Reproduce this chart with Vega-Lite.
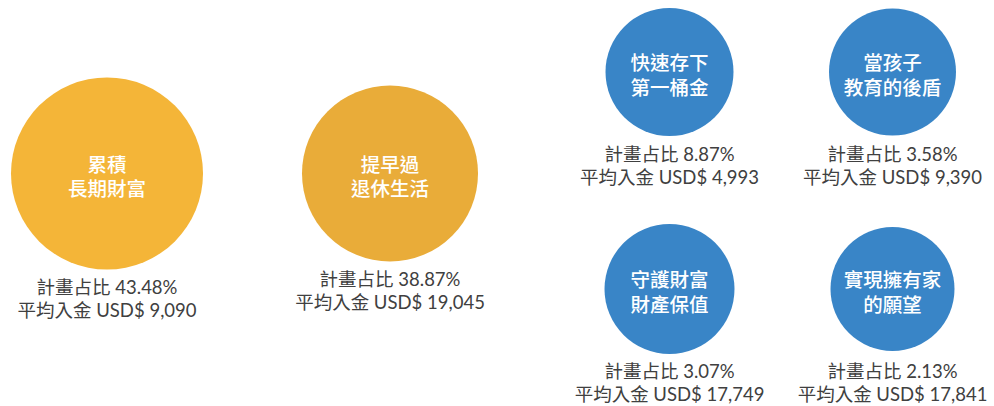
{
  "$schema": "https://vega.github.io/schema/vega-lite/v6.json",
  "width": 994,
  "height": 406,
  "padding": 0,
  "autosize": {"type": "none"},
  "background": "white",
  "config": {"view": {"stroke": null}},
  "data": {
    "values": [
      {"name": "累積\n長期財富", "share": 43.48, "info": "計畫占比 43.48%\n平均入金 USD$ 9,090", "col": 1, "row": 2},
      {"name": "提早過\n退休生活", "share": 38.87, "info": "計畫占比 38.87%\n平均入金 USD$ 19,045", "col": 2, "row": 2},
      {"name": "快速存下\n第一桶金", "share": 8.87, "info": "計畫占比 8.87%\n平均入金 USD$ 4,993", "col": 3, "row": 1},
      {"name": "當孩子\n教育的後盾", "share": 3.58, "info": "計畫占比 3.58%\n平均入金 USD$ 9,390", "col": 4, "row": 1},
      {"name": "守護財富\n財產保值", "share": 3.07, "info": "計畫占比 3.07%\n平均入金 USD$ 17,749", "col": 3, "row": 3},
      {"name": "實現擁有家\n的願望", "share": 2.13, "info": "計畫占比 2.13%\n平均入金 USD$ 17,841", "col": 4, "row": 3}
    ]
  },
  "encoding": {
    "x": {"field": "col", "type": "quantitative", "scale": {"domain": [1, 2, 3, 4], "range": [107, 390, 669.5, 892.5], "nice": false, "zero": false}, "axis": null},
    "y": {"field": "row", "type": "quantitative", "scale": {"domain": [1, 2, 3], "range": [72, 173.5, 289], "nice": false, "zero": false}, "axis": null}
  },
  "layer": [
    {
      "mark": {"type": "point", "shape": "circle", "filled": true, "opacity": 1, "strokeWidth": 0},
      "encoding": {
        "size": {"field": "share", "type": "quantitative", "scale": {"domain": [2.13, 3.07, 3.58, 8.87, 38.87, 43.48], "range": [15376, 16900, 16129, 16384, 30976, 36864], "zero": false, "nice": false}, "legend": null},
        "color": {"field": "name", "type": "nominal", "scale": {"domain": ["累積\n長期財富", "提早過\n退休生活", "快速存下\n第一桶金", "當孩子\n教育的後盾", "守護財富\n財產保值", "實現擁有家\n的願望"], "range": ["#F4B538", "#E9AC39", "#3985C7", "#3985C7", "#3985C7", "#3985C7"]}, "legend": null}
      }
    },
    {
      "mark": {"type": "text", "lineBreak": "\n", "lineHeight": 24.5, "fontSize": 19.5, "font": "Noto Sans CJK TC", "fontWeight": 500, "color": "white", "align": "center", "baseline": "middle", "dy": -8},
      "encoding": {"text": {"field": "name", "type": "nominal"}}
    },
    {
      "transform": [{"filter": "datum.share > 40"}],
      "mark": {"type": "text", "lineBreak": "\n", "lineHeight": 23, "fontSize": 18.5, "font": "Lato, Noto Sans CJK TC", "color": "#404040", "align": "center", "baseline": "middle", "dy": 114.5},
      "encoding": {"text": {"field": "info", "type": "nominal"}}
    },
    {
      "transform": [{"filter": "datum.share > 20 && datum.share < 40"}],
      "mark": {"type": "text", "lineBreak": "\n", "lineHeight": 23, "fontSize": 18.5, "font": "Lato, Noto Sans CJK TC", "color": "#404040", "align": "center", "baseline": "middle", "dy": 106.5},
      "encoding": {"text": {"field": "info", "type": "nominal"}}
    },
    {
      "transform": [{"filter": "datum.share < 20"}],
      "mark": {"type": "text", "lineBreak": "\n", "lineHeight": 23.5, "fontSize": 18.5, "font": "Lato, Noto Sans CJK TC", "color": "#404040", "align": "center", "baseline": "middle", "dy": 82.5},
      "encoding": {"text": {"field": "info", "type": "nominal"}}
    }
  ]
}
